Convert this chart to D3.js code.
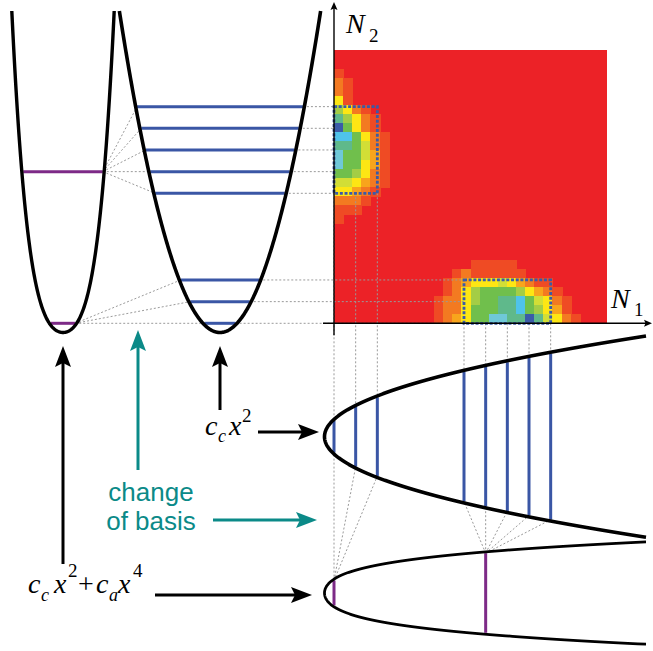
<!DOCTYPE html>
<html>
<head>
<meta charset="utf-8">
<script src="https://cdn.jsdelivr.net/npm/d3@7"></script>
<style>
  html, body { margin: 0; padding: 0; background: #fff; }
  svg { display: block; }
  .math { font-family: "Liberation Serif", "Times New Roman", serif; }
  .note { font-family: "Liberation Sans", Arial, sans-serif; }
</style>
</head>
<body>
<div id="chart"></div>
<script>
// levels drawn in the harmonic well (c_c x^2) and in the anharmonic one
const harmonicLevels = [0, 1, 2, 6, 7, 8, 9, 10];
const anharmonicLevels = [0, 7];
// harmonic levels that each anharmonic level spreads over
const fanOut = [[0, 1, 2], [6, 7, 8, 9, 10]];
// the two blocks of basis states marked in the (N1, N2) map
const blocks = [
  { n1: [0, 2], n2: [6, 10] },
  { n1: [6, 10], n2: [0, 2] },
];
// heat map cells, top row first, left column first (0 red ... b blue)
const heatRows = [
  "",
  "",
  "1",
  "21",
  "21",
  "41",
  "6421",
  "86421",
  "b7421",
  "aa7421",
  "887521",
  "977531",
  "977431",
  "776421",
  "554321",
  "44321",
  "2221",
  "111",
  "1",
  "",
  "",
  "",
  "",
  "00000000000000011111",
  "000000000000012111111",
  "000000000000123444543211",
  "0000000000001246777764321",
  "00000000000122467788a75421",
  "00000000000122477788a76431",
  "000000000001234779988b85421",
];
const heatColors = [
  "#ec2227", "#ef4b24", "#f37a21", "#f8a51c", "#fde614", "#d2de36",
  "#a4cd45", "#70bf4c", "#5fb98b", "#6fc8d8", "#4fc3ea", "#3b5ba9",
];
const nMax = 12.6;

const W = 653;
const H = 651;
const TEAL = "#0b8a88";
const BLUE = "#3a56a5";
const PURPLE = "#7d2a87";
const GREY = "#9a9a9a";

class BasisDiagram {
  constructor({ elChart, width, height }) {
    this.elChart = elChart;
    this.width = width;
    this.height = height;
    this.init();
  }

  init() {
    this.setup();
    this.scaffold();
    this.wrangle();
    this.render();
  }

  setup() {
    this.nX = d3.scaleLinear().domain([0, nMax]).range([334, 607]);
    this.nY = d3.scaleLinear().domain([0, nMax]).range([323.3, 50.3]);

    this.harmonic = {
      v: (u) => (u * u) / 31.5,
      inv: (h) => Math.sqrt(31.5 * Math.max(h, 0)),
    };
    const a = 0.044;
    const b = 3e-5;
    this.quartic = {
      v: (u) => a * u * u + b * u ** 4,
      inv: (h) =>
        Math.sqrt((-a + Math.sqrt(a * a + 4 * b * Math.max(h, 0))) / (2 * b)),
    };

    // wells on the left: vertex height and top
    this.well = { base: 332.5, top: 11 };
    this.leftWells = [
      { pot: this.quartic, cx: 63, levels: anharmonicLevels, color: PURPLE, sw: 3.4 },
      { pot: this.harmonic, cx: 220, levels: harmonicLevels, color: BLUE, sw: 3.6 },
    ];
    // wells lying on their side under the map
    this.side = { base: 324.5, right: 646 };
    this.sideWells = [
      { pot: this.harmonic, cy: 436.7, levels: harmonicLevels, color: BLUE, sw: 3.6 },
      { pot: this.quartic, cy: 593, levels: anharmonicLevels, color: PURPLE, sw: 2.8 },
    ];

    this.line = d3.line();
  }

  scaffold() {
    this.svg = d3
      .select(this.elChart)
      .append("svg")
      .attr("width", this.width)
      .attr("height", this.height);
    this.svg
      .append("rect")
      .attr("width", this.width)
      .attr("height", this.height)
      .attr("fill", "#fff");
  }

  wrangle() {
    const nCols = 30;
    this.cells = [];
    heatRows.forEach((row, r) => {
      row.padEnd(nCols, "0").split("").forEach((ch, c) => {
        this.cells.push({ r, c, v: parseInt(ch, 16) });
      });
    });
    this.cellX = d3.scaleBand().domain(d3.range(nCols)).range(this.nX.range());
    this.cellY = d3
      .scaleBand()
      .domain(d3.range(heatRows.length))
      .range([this.nY(nMax), this.nY(0)]);
  }

  render() {
    this.renderHeat();
    this.renderGuides();
    this.renderLevels();
    this.renderWells();
    this.renderBlocks();
    this.renderAxes();
    this.renderArrows();
    this.renderLabels();
  }

  renderHeat() {
    const [x0, x1] = this.cellX.range();
    const [y0, y1] = this.cellY.range();
    const g = this.svg.append("g").attr("shape-rendering", "crispEdges");
    // red ground first so no seams show between cells
    g.append("rect")
      .attr("x", x0)
      .attr("y", y0)
      .attr("width", x1 - x0)
      .attr("height", y1 - y0)
      .attr("fill", heatColors[0]);
    g.selectAll(".cell")
      .data(this.cells.filter((d) => d.v > 0))
      .join("rect")
      .attr("class", "cell")
      .attr("x", (d) => this.cellX(d.c))
      .attr("y", (d) => this.cellY(d.r))
      .attr("width", this.cellX.bandwidth() + 1)
      .attr("height", this.cellY.bandwidth() + 1)
      .attr("fill", (d) => heatColors[d.v]);
  }

  leftLevel(w, n) {
    const y = this.nY(n);
    const half = w.pot.inv(this.well.base - y) - 1.4;
    return { y, x1: w.cx - half, x2: w.cx + half };
  }

  sideLevel(w, n) {
    const x = this.nX(n);
    const half = w.pot.inv(x - this.side.base) - 1.4;
    return { x, y1: w.cy - half, y2: w.cy + half };
  }

  renderGuides() {
    const segs = [];
    const [lq, lh] = this.leftWells;
    const [sh, sq] = this.sideWells;

    anharmonicLevels.forEach((q, i) => {
      const from = this.leftLevel(lq, q);
      const fromSide = this.sideLevel(sq, q);
      fanOut[i].forEach((n) => {
        const to = this.leftLevel(lh, n);
        segs.push([[from.x2, from.y], [to.x1, to.y]]);
        const toSide = this.sideLevel(sh, n);
        segs.push([[fromSide.x, fromSide.y1], [toSide.x, toSide.y2]]);
      });
    });

    harmonicLevels.forEach((n) => {
      const lv = this.leftLevel(lh, n);
      const rowBlock = blocks.find((b) => n >= b.n2[0] && n <= b.n2[1]);
      segs.push([[lv.x2, lv.y], [this.nX(rowBlock.n1[0]), lv.y]]);

      const sv = this.sideLevel(sh, n);
      const colBlock = blocks.find((b) => n >= b.n1[0] && n <= b.n1[1]);
      segs.push([[sv.x, this.nY(colBlock.n2[0])], [sv.x, sv.y1]]);
    });

    this.svg
      .append("g")
      .selectAll("path")
      .data(segs)
      .join("path")
      .attr("d", this.line)
      .attr("fill", "none")
      .attr("stroke", GREY)
      .attr("stroke-width", 1)
      .attr("stroke-dasharray", "2 2");
  }

  renderLevels() {
    const g = this.svg.append("g").attr("stroke-width", 3);
    this.leftWells.forEach((w) => {
      g.append("g")
        .attr("stroke", w.color)
        .selectAll("line")
        .data(w.levels.map((n) => this.leftLevel(w, n)))
        .join("line")
        .attr("x1", (d) => d.x1)
        .attr("x2", (d) => d.x2)
        .attr("y1", (d) => d.y)
        .attr("y2", (d) => d.y);
    });
    this.sideWells.forEach((w) => {
      g.append("g")
        .attr("stroke", w.color)
        .selectAll("line")
        .data(w.levels.map((n) => this.sideLevel(w, n)))
        .join("line")
        .attr("x1", (d) => d.x)
        .attr("x2", (d) => d.x)
        .attr("y1", (d) => d.y1)
        .attr("y2", (d) => d.y2);
    });
  }

  renderWells() {
    const g = this.svg
      .append("g")
      .attr("fill", "none")
      .attr("stroke", "#000")
      .attr("stroke-linejoin", "round");
    this.leftWells.forEach((w) => {
      const uMax = w.pot.inv(this.well.base - this.well.top);
      const pts = d3
        .range(-uMax, uMax, 0.5)
        .concat([uMax])
        .map((u) => [w.cx + u, this.well.base - w.pot.v(u)]);
      g.append("path").attr("d", this.line(pts)).attr("stroke-width", w.sw);
    });
    this.sideWells.forEach((w) => {
      const uMax = w.pot.inv(this.side.right - this.side.base);
      const pts = d3
        .range(-uMax, uMax, 0.5)
        .concat([uMax])
        .map((u) => [this.side.base + w.pot.v(u), w.cy + u]);
      g.append("path").attr("d", this.line(pts)).attr("stroke-width", w.sw);
    });
  }

  renderBlocks() {
    this.svg
      .append("g")
      .selectAll("rect")
      .data(blocks)
      .join("rect")
      .attr("x", (d) => this.nX(d.n1[0]))
      .attr("y", (d) => this.nY(d.n2[1]))
      .attr("width", (d) => this.nX(d.n1[1]) - this.nX(d.n1[0]))
      .attr("height", (d) => this.nY(d.n2[0]) - this.nY(d.n2[1]))
      .attr("fill", "none")
      .attr("stroke", "#3a5ba8")
      .attr("stroke-width", 2.8)
      .attr("stroke-dasharray", "3 1.7");
  }

  arrowHead(g, x, y, angle, len, half, notch, color) {
    g.append("path")
      .attr(
        "d",
        `M0,0L${-len},${-half}L${-len + notch},0L${-len},${half}Z`,
      )
      .attr("transform", `translate(${x},${y}) rotate(${angle})`)
      .attr("fill", color);
  }

  renderAxes() {
    const g = this.svg.append("g");
    const x0 = this.nX(0);
    const y0 = this.nY(0);
    g.append("line")
      .attr("x1", x0).attr("x2", x0)
      .attr("y1", y0 + 12).attr("y2", 8)
      .attr("stroke", "#000").attr("stroke-width", 1.4);
    this.arrowHead(g, x0, 2, -90, 8, 3.5, 1.5, "#000");
    g.append("line")
      .attr("x1", x0 - 11).attr("x2", 646)
      .attr("y1", y0).attr("y2", y0)
      .attr("stroke", "#000").attr("stroke-width", 1.4);
    this.arrowHead(g, 652, y0, 0, 8, 3.5, 1.5, "#000");
  }

  renderArrows() {
    const arrows = [
      { from: [63, 564], to: [63, 346], color: "#000" },
      { from: [220, 410], to: [220, 346], color: "#000" },
      { from: [138, 470], to: [138, 330], color: TEAL },
      { from: [258, 432], to: [319, 432], color: "#000" },
      { from: [155, 595], to: [312, 595], color: "#000" },
      { from: [213, 520], to: [317, 520], color: TEAL },
    ];
    const g = this.svg.append("g");
    arrows.forEach((d) => {
      const dx = d.to[0] - d.from[0];
      const dy = d.to[1] - d.from[1];
      const len = Math.hypot(dx, dy);
      const angle = (Math.atan2(dy, dx) * 180) / Math.PI;
      const stop = [d.to[0] - (dx / len) * 16, d.to[1] - (dy / len) * 16];
      g.append("line")
        .attr("x1", d.from[0]).attr("y1", d.from[1])
        .attr("x2", stop[0]).attr("y2", stop[1])
        .attr("stroke", d.color).attr("stroke-width", 3);
      this.arrowHead(g, d.to[0], d.to[1], angle, 21, 8, 4, d.color);
    });
  }

  renderLabels() {
    const pieces = [
      // N2
      { t: "N", x: 346, y: 33, s: 28, it: true },
      { t: "2", x: 369, y: 42, s: 19 },
      // N1
      { t: "N", x: 611, y: 308, s: 28, it: true },
      { t: "1", x: 634, y: 316, s: 19 },
      // c_c x^2
      { t: "c", x: 205, y: 435, s: 28, it: true },
      { t: "c", x: 218, y: 442, s: 18, it: true },
      { t: "x", x: 229, y: 435, s: 28, it: true },
      { t: "2", x: 242, y: 422, s: 19 },
      // c_c x^2 + c_a x^4
      { t: "c", x: 28, y: 593, s: 28, it: true },
      { t: "c", x: 41, y: 601, s: 18, it: true },
      { t: "x", x: 54, y: 593, s: 28, it: true },
      { t: "2", x: 68, y: 577, s: 19 },
      { t: "+", x: 78, y: 593, s: 28 },
      { t: "c", x: 96, y: 593, s: 28, it: true },
      { t: "a", x: 109, y: 601, s: 18, it: true },
      { t: "x", x: 118, y: 593, s: 28, it: true },
      { t: "4", x: 133, y: 577, s: 19 },
    ];
    this.svg
      .append("g")
      .attr("class", "math")
      .selectAll("text")
      .data(pieces)
      .join("text")
      .attr("x", (d) => d.x)
      .attr("y", (d) => d.y)
      .attr("font-size", (d) => d.s)
      .attr("font-style", (d) => (d.it ? "italic" : "normal"))
      .text((d) => d.t);

    this.svg
      .append("g")
      .attr("class", "note")
      .attr("fill", TEAL)
      .attr("font-size", 26)
      .attr("text-anchor", "middle")
      .selectAll("text")
      .data(["change", "of basis"])
      .join("text")
      .attr("x", 151)
      .attr("y", (d, i) => 501 + i * 29)
      .text((d) => d);
  }
}

new BasisDiagram({
  elChart: document.getElementById("chart"),
  width: W,
  height: H,
});
</script>
</body>
</html>
